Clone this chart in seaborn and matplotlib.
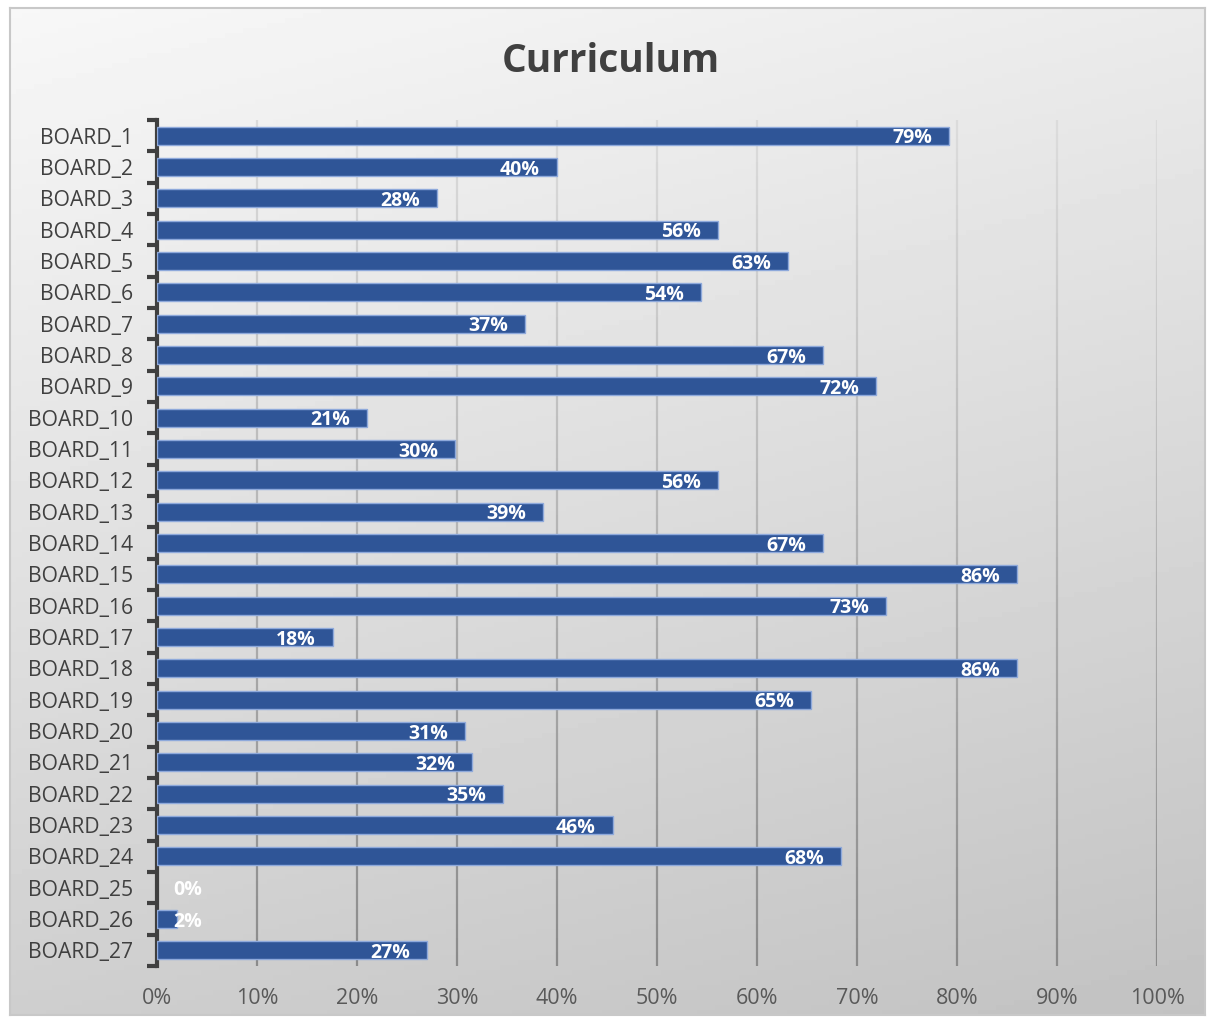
import numpy as np
import pandas as pd
import matplotlib
matplotlib.use("Agg")
import matplotlib.pyplot as plt
import seaborn as sns

boards = [f"BOARD_{i}" for i in range(1, 28)]
values = [79.2, 40.0, 28.0, 56.1, 63.1, 54.4, 36.8, 66.6, 71.9, 21.0,
          29.8, 56.1, 38.6, 66.6, 86.0, 72.9, 17.6, 86.0, 65.4, 30.8,
          31.5, 34.6, 45.6, 68.4, 0.0, 2.0, 27.0]
xticks = [0, 10, 20, 30, 40, 50, 60, 70, 80, 90, 100]
title = "Curriculum"

df = pd.DataFrame({"board": boards, "value": values})

sns.set_theme(style="white")
plt.rcParams["font.family"] = ["Open Sans", "DejaVu Sans"]

W, H = 1208, 1021
fig = plt.figure(figsize=(W / 100, H / 100), dpi=100)
fig.patch.set_facecolor("white")

# gradient background panel
bx0, by0, bx1, by1 = 10, 8, 1205, 1015
bg = fig.add_axes([bx0 / W, 1 - by1 / H, (bx1 - bx0) / W, (by1 - by0) / H])
yy, xx = np.mgrid[0:1:200j, 0:1:200j]
grad = 0.97 - 0.16 * yy - 0.05 * xx
bg.imshow(grad, cmap="gray", vmin=0, vmax=1, aspect="auto", extent=[0, 1, 1, 0])
bg.set_xlim(0, 1)
bg.set_ylim(1, 0)
bg.set_xticks([])
bg.set_yticks([])
for s in bg.spines.values():
    s.set_color("#c8c8c8")
    s.set_linewidth(1.5)

# main axes
ax_l, ax_r, ax_t, ax_b = 157, 1157, 120, 966
ax = fig.add_axes([ax_l / W, 1 - ax_b / H, (ax_r - ax_l) / W, (ax_b - ax_t) / H])
ax.patch.set_alpha(0)

sns.barplot(data=df, y="board", x="value", orient="h", color="#2F5597",
            width=0.58, saturation=1, edgecolor="#8EA9DB", linewidth=1,
            ax=ax, zorder=3)
for p in ax.patches:
    if p.get_width() == 0:
        p.set_linewidth(0)

ax.set_xlim(0, 100)
ax.set_ylim(len(boards) - 0.5, -0.5)

# gradient gridlines
nseg = 60
ys = np.linspace(-0.5, len(boards) - 0.5, nseg + 1)
for xv in xticks[1:]:
    for k in range(nseg):
        f = k / nseg
        c = 0.86 - 0.32 * f
        ax.plot([xv, xv], [ys[k], ys[k + 1]], color=(c, c, c), lw=1.6,
                zorder=1, solid_capstyle="butt")

ax.set_xticks(xticks)
ax.set_xticklabels([f"{t}%" for t in xticks], fontsize=15.5, color="#595959")
ax.tick_params(axis="x", length=0, pad=16)

ax.set_yticks(range(len(boards)))
ax.set_yticklabels(boards, fontsize=15.2, color="#404040")
ax.set_yticks(np.arange(-0.5, len(boards), 1.0), minor=True)
ax.tick_params(axis="y", which="major", length=0, pad=17)
ax.tick_params(axis="y", which="minor", length=7, width=3, color="#404040",
               direction="out", left=True)

for s in ["top", "right", "bottom"]:
    ax.spines[s].set_visible(False)
ax.spines["left"].set_color("#404040")
ax.spines["left"].set_linewidth(3)
ax.set_xlabel("")
ax.set_ylabel("")

for i, v in enumerate(values):
    xr = max(v - 1.7, 4.5)
    ax.text(xr, i + 0.08, f"{round(v)}%", ha="right", va="center",
            color="white", fontsize=14, fontweight="bold", zorder=5)

fig.text((502 + 720) / 2 / W, 1 - 62 / H, title, ha="center", va="center",
         fontsize=28, fontweight="bold", color="#404040")

fig.savefig("out.png", dpi=100)
